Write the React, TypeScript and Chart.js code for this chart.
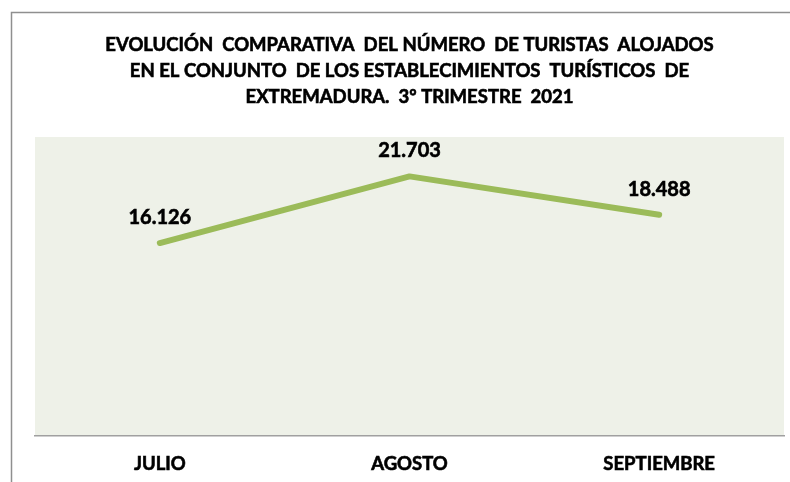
import React, { useEffect, useRef } from "react";
import { Chart, registerables } from "chart.js";

Chart.register(...registerables);

const categories = ["JULIO", "AGOSTO", "SEPTIEMBRE"];
const turistas = [16126, 21703, 18488];
const valueLabels = ["16.126", "21.703", "18.488"];
const titleLines = [
  "EVOLUCIÓN  COMPARATIVA  DEL NÚMERO  DE TURISTAS  ALOJADOS",
  "EN EL CONJUNTO  DE LOS ESTABLECIMIENTOS  TURÍSTICOS  DE",
  "EXTREMADURA.  3º TRIMESTRE  2021",
];
const yMax = 25000;

const FONT = "Lato, 'Open Sans', sans-serif";
const W = 790;
const H = 482;

function heavyText(ctx: CanvasRenderingContext2D, t: string, x: number, y: number) {
  ctx.fillText(t, x, y);
  ctx.lineWidth = 0.6;
  ctx.strokeStyle = ctx.fillStyle as string;
  ctx.strokeText(t, x, y);
}

export default function App() {
  const ref = useRef<HTMLCanvasElement>(null);

  useEffect(() => {
    const prev = document.body.style.margin;
    document.body.style.margin = "0";
    const canvas = ref.current!;

    const decor = {
      id: "decor",
      beforeDraw(chart: any) {
        const { ctx, chartArea } = chart;
        ctx.save();
        ctx.fillStyle = "#ffffff";
        ctx.fillRect(0, 0, W, H);
        // outer frame
        ctx.strokeStyle = "#8f8f8f";
        ctx.lineWidth = 1.5;
        ctx.beginPath();
        ctx.moveTo(11.5, H + 2);
        ctx.lineTo(11.5, 12.5);
        ctx.lineTo(W + 2, 12.5);
        ctx.stroke();
        // plot background
        ctx.fillStyle = "#EEF1E8";
        ctx.fillRect(chartArea.left, chartArea.top, chartArea.right - chartArea.left, chartArea.bottom - chartArea.top);
        // title
        ctx.fillStyle = "#000000";
        ctx.font = `bold 18.5px ${FONT}`;
        ctx.textAlign = "center";
        ctx.textBaseline = "alphabetic";
        const cx = (chartArea.left + chartArea.right) / 2;
        titleLines.forEach((t, i) => {
          heavyText(ctx, t, cx, 51 + i * 26);
        });
        ctx.restore();
      },
      afterDatasetsDraw(chart: any) {
        const { ctx } = chart;
        const meta = chart.getDatasetMeta(0);
        ctx.save();
        ctx.fillStyle = "#000000";
        ctx.font = `bold 20px ${FONT}`;
        ctx.textAlign = "center";
        ctx.textBaseline = "alphabetic";
        meta.data.forEach((pt: any, i: number) => {
          heavyText(ctx, valueLabels[i], pt.x, pt.y - 19);
        });
        ctx.restore();
      },
    };

    const chart = new Chart(canvas, {
      type: "line",
      data: {
        labels: categories,
        datasets: [
          {
            data: turistas,
            borderColor: "#9BBB59",
            backgroundColor: "#9BBB59",
            borderWidth: 6,
            borderCapStyle: "round",
            borderJoinStyle: "round",
            pointRadius: 0,
            pointHoverRadius: 0,
            tension: 0,
            fill: false,
          },
        ],
      },
      options: {
        responsive: false,
        animation: false,
        devicePixelRatio: 1,
        layout: { padding: { left: 35, right: 6, top: 137, bottom: -10 } },
        plugins: {
          legend: { display: false },
          title: { display: false },
          tooltip: { enabled: false },
        },
        scales: {
          x: {
            offset: true,
            grid: { display: false, drawTicks: false },
            border: { display: true, color: "#A0A0A0", width: 1.5 },
            ticks: {
              color: "#000000",
              padding: 17,
              textStrokeColor: "#000000",
              textStrokeWidth: 0.6,
              font: { family: FONT, size: 18.5, weight: "bold" },
            },
          },
          y: {
            display: false,
            min: 0,
            max: yMax,
          },
        },
      },
      plugins: [decor],
    } as any);

    return () => {
      chart.destroy();
      document.body.style.margin = prev;
    };
  }, []);

  return (
    <div style={{ position: "fixed", left: 0, top: 0, width: W, height: H, overflow: "hidden", background: "#fff" }}>
      <canvas ref={ref} width={W} height={H} style={{ display: "block", width: W, height: H }} />
    </div>
  );
}
